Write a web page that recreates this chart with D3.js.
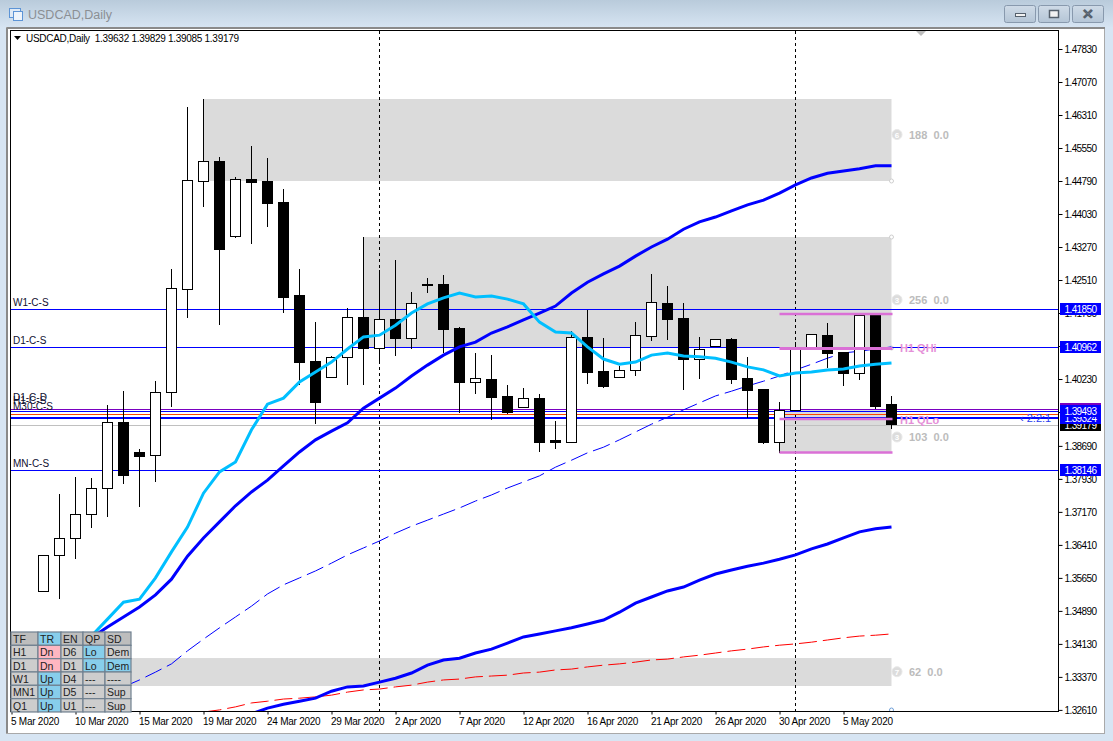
<!DOCTYPE html>
<html><head><meta charset="utf-8">
<script src="https://cdn.jsdelivr.net/npm/d3@7/dist/d3.min.js"></script>
<style>
html,body{margin:0;padding:0;background:#d7e5f3;overflow:hidden}
svg{display:block}
text{font-family:"Liberation Sans",Arial,sans-serif}
</style></head><body><script>
const opens=[1.35347,1.36176,1.36568,1.37121,1.37719,1.39239,1.38548,1.38479,1.39930,1.42302,1.44790,1.45250,1.43523,1.44836,1.44790,1.44306,1.42164,1.40644,1.40276,1.40736,1.41657,1.40944,1.41611,1.41174,1.42417,1.42417,1.41404,1.40161,1.40230,1.39838,1.39585,1.39792,1.38825,1.38779,1.41197,1.40414,1.40276,1.40437,1.41220,1.41980,1.41634,1.40690,1.40990,1.41151,1.40253,1.39999,1.38779,1.39516,1.40967,1.41243,1.40851,1.40368,1.41727,1.39632];
const highs=[1.36176,1.37581,1.37973,1.37950,1.39631,1.39953,1.38618,1.40184,1.42763,1.46494,1.46678,1.45342,1.44882,1.45596,1.45319,1.44605,1.42763,1.41542,1.40759,1.41865,1.43500,1.42740,1.42970,1.42233,1.42556,1.42625,1.41427,1.40828,1.40782,1.40091,1.40022,1.39884,1.39262,1.41335,1.41819,1.41174,1.40529,1.41542,1.42648,1.42371,1.41980,1.41197,1.41151,1.41174,1.40736,1.39999,1.39700,1.41082,1.41266,1.41519,1.40851,1.41704,1.41727,1.39829];
const lows=[1.35347,1.35163,1.36084,1.36798,1.37052,1.37812,1.37282,1.37858,1.39585,1.41634,1.44191,1.41473,1.43477,1.43339,1.43730,1.41750,1.40091,1.39193,1.40276,1.40091,1.40091,1.40598,1.40759,1.40921,1.42210,1.40828,1.39447,1.39884,1.39285,1.39424,1.39562,1.38548,1.38618,1.38756,1.40114,1.40022,1.40276,1.40299,1.41105,1.41128,1.39976,1.40230,1.40967,1.40114,1.39332,1.38733,1.38525,1.39516,1.40967,1.40483,1.40068,1.40207,1.39539,1.39085];
const closes=[1.36176,1.36568,1.37121,1.37719,1.39239,1.38019,1.38456,1.39930,1.42325,1.44813,1.45250,1.43224,1.44836,1.44767,1.44283,1.42118,1.40621,1.39700,1.40736,1.41657,1.40944,1.41611,1.41174,1.41980,1.42394,1.41381,1.40161,1.40253,1.39815,1.39470,1.39792,1.38779,1.38779,1.41197,1.40391,1.40068,1.40437,1.41243,1.42003,1.41611,1.40690,1.40921,1.41151,1.40230,1.39976,1.38779,1.39516,1.40944,1.41266,1.40828,1.40368,1.41704,1.39608,1.39179];
const firstCandleBar=2;

const maFast=[1.3431,1.3470,1.3509,1.3516,1.3565,1.3625,1.3682,1.3760,1.3809,1.3832,1.3906,1.3965,1.3979,1.4016,1.4039,1.4062,1.4092,1.4120,1.4124,1.4147,1.4175,1.4196,1.4210,1.4221,1.4212,1.4214,1.4207,1.4196,1.4154,1.4131,1.4129,1.4097,1.4069,1.4057,1.4062,1.4078,1.4083,1.4076,1.4074,1.4071,1.4062,1.4051,1.4044,1.4030,1.4037,1.4039,1.4044,1.4046,1.4053,1.4057,1.4060];
const maFastStart=5;
const maMid=[1.3427,1.3452,1.3475,1.3498,1.3526,1.3562,1.3615,1.3657,1.3694,1.3731,1.3763,1.3790,1.3823,1.3855,1.3883,1.3903,1.3922,1.3956,1.3979,1.4002,1.4030,1.4055,1.4078,1.4097,1.4108,1.4129,1.4143,1.4159,1.4175,1.4191,1.4221,1.4246,1.4265,1.4283,1.4306,1.4327,1.4345,1.4368,1.4385,1.4396,1.4410,1.4424,1.4435,1.4451,1.4470,1.4486,1.4497,1.4502,1.4507,1.4514,1.4514];
const maMidStart=5;
const maDash=[1.3314,1.3330,1.3348,1.3367,1.3397,1.3424,1.3450,1.3475,1.3500,1.3528,1.3549,1.3565,1.3581,1.3599,1.3618,1.3634,1.3650,1.3668,1.3684,1.3698,1.3712,1.3726,1.3742,1.3756,1.3772,1.3786,1.3800,1.3820,1.3836,1.3853,1.3866,1.3883,1.3901,1.3919,1.3935,1.3952,1.3968,1.3984,1.3995,1.4007,1.4018,1.4030,1.4044,1.4057,1.4071,1.4083,1.4087,1.4092,1.4097];
const maDashStart=7;
const maSlow=[1.3252,1.3265,1.3274,1.3281,1.3288,1.3304,1.3314,1.3316,1.3325,1.3334,1.3346,1.3364,1.3376,1.3380,1.3392,1.3401,1.3415,1.3429,1.3436,1.3443,1.3450,1.3459,1.3468,1.3486,1.3507,1.3521,1.3535,1.3544,1.3560,1.3574,1.3583,1.3592,1.3599,1.3608,1.3618,1.3632,1.3643,1.3657,1.3671,1.3678,1.3682];
const maSlowStart=15;
const maRed=[1.3256,1.3261,1.3268,1.3277,1.3281,1.3286,1.3288,1.3291,1.3295,1.3302,1.3307,1.3309,1.3314,1.3318,1.3325,1.3330,1.3332,1.3337,1.3339,1.3341,1.3346,1.3348,1.3353,1.3355,1.3360,1.3364,1.3367,1.3371,1.3376,1.3378,1.3383,1.3387,1.3392,1.3397,1.3401,1.3406,1.3410,1.3413,1.3417,1.3422,1.3427,1.3431,1.3433,1.3436];
const maRedStart=12;

const dateTicks=[0,4,8,12,16,20,24,28,32,36,40,44,48,52];
const dateLabels=["5 Mar 2020","10 Mar 2020","15 Mar 2020","19 Mar 2020","24 Mar 2020","29 Mar 2020","2 Apr 2020","7 Apr 2020","12 Apr 2020","16 Apr 2020","21 Apr 2020","26 Apr 2020","30 Apr 2020","5 May 2020"];
const priceTicks=[1.4783,1.4707,1.4631,1.4555,1.4479,1.4403,1.4327,1.4251,1.4175,1.4099,1.4023,1.3947,1.3869,1.3793,1.3717,1.3641,1.3565,1.3489,1.3413,1.3337,1.3261];

const zoneStart=[12,22,48,0], zoneHigh=[1.46678,1.43500,1.39516,1.33804], zoneLow=[1.44790,1.40944,1.38525,1.33160];
const zoneNum=["6","3","3","7"], zoneText=["188  0.0","256  0.0","103  0.0","62  0.0"], zoneLabelPrice=[1.4586,1.42055,1.38895,1.33490];
const levelNames=["W1-C-S","D1-C-S","MN-C-S","D1-C-D","H1-C-S","M30-C-S"], levelNamePrice=[1.41850,1.40962,1.38146,1.39650,1.39580,1.39440];
const linePrices=[1.41850,1.40962,1.38146,1.39539,1.39493,1.39424,1.39355,1.39324,1.39179];
const lineColors=["#0000ff","#0000ff","#0000ff","#7a00c0","#0000ff","#ff4500","#0000ff","#0000ff","#c0c0c0"];
const pinkPrices=[1.41727,1.40933,1.39308,1.38537], pinkStart=48;
const vLines=[23,49];
const tagPrices=[1.39179,1.39324,1.39539,1.39493,1.41850,1.40962,1.38146], tagColors=["#000","#0000ff","#7a00c0","#0000ff","#0000ff","#0000ff","#0000ff"], tagTexts=["1.39179","1.39324","","1.39493","1.41850","1.40962","1.38146"];
const tableRows=[["TF","TR","EN","QP","SD"],["H1","Dn","D6","Lo","Dem"],["D1","Dn","D1","Lo","Dem"],["W1","Up","D4","---","----"],["MN1","Up","D5","---","Sup"],["Q1","Up","U1","---","Sup"]];
const tableColumns=[27,23,22,22,26];
const headerInfo="USDCAD,Daily  1.39632 1.39829 1.39085 1.39179";

const W=1113,H=741;
const svg=d3.select("body").append("svg").attr("width",W).attr("height",H);
const defs=svg.append("defs");
const g=defs.append("linearGradient").attr("id","tb").attr("x1",0).attr("x2",0).attr("y1",0).attr("y2",1);
g.append("stop").attr("offset",0).attr("stop-color","#b9cbdb");
g.append("stop").attr("offset",1).attr("stop-color","#d6e4f2");
const g2=defs.append("linearGradient").attr("id","btn").attr("x1",0).attr("x2",0).attr("y1",0).attr("y2",1);
g2.append("stop").attr("offset",0).attr("stop-color","#cfdbe7");
g2.append("stop").attr("offset",1).attr("stop-color","#b4c5d6");
defs.append("clipPath").attr("id","plot").append("rect").attr("x",11).attr("y",31).attr("width",1047).attr("height",680);

svg.append("rect").attr("width",W).attr("height",H).attr("fill","#d7e5f3");
svg.append("rect").attr("width",W).attr("height",27).attr("fill","url(#tb)");
svg.append("rect").attr("x",6.5).attr("y",27.5).attr("width",1098).attr("height",706).attr("fill","#fff").attr("stroke","#a9a9a9");
svg.append("line").attr("x1",7).attr("x2",1105).attr("y1",28).attr("y2",28).attr("stroke","#8a8a8a").attr("stroke-width",2);
svg.append("line").attr("x1",7).attr("x2",7).attr("y1",28).attr("y2",733).attr("stroke","#8a8a8a").attr("stroke-width",2);

// title bar
const ic=svg.append("g").attr("fill","none").attr("stroke","#5d94d6");
ic.append("rect").attr("x",9.5).attr("y",8.5).attr("width",11).attr("height",9).attr("fill","#dfeaf6");
ic.append("rect").attr("x",13.5).attr("y",11.5).attr("width",9).attr("height",9).attr("fill","#eef4fb");
svg.append("text").attr("x",28).attr("y",19).attr("font-size",12.5).attr("fill","#8b8f94").text("USDCAD,Daily");
[1005,1039,1073].forEach((x,i)=>{
  svg.append("rect").attr("x",x-.5).attr("y",5.5).attr("width",31).attr("height",17).attr("rx",2).attr("fill","url(#btn)").attr("stroke","#8899ad");
  if(i==0) svg.append("rect").attr("x",x+10.5).attr("y",13.5).attr("width",10).attr("height",3).attr("fill","#f2f2f2").attr("stroke","#55606c");
  if(i==1) svg.append("rect").attr("x",x+10.5).attr("y",10.5).attr("width",9).attr("height",7).attr("fill","#f2f2f2").attr("stroke","#55606c").attr("stroke-width",1.5);
  if(i==2) svg.append("text").attr("x",x+15).attr("y",19).attr("text-anchor","middle").attr("font-size",14).attr("font-weight","bold").attr("fill","#e9eef3").attr("stroke","#55606c").attr("stroke-width",.7).text("✕");
});

const x=d3.scaleLinear().domain([0,55]).range([11.5,891.5]);
const y=d3.scaleLinear().domain([1.4783,1.3261]).range([49,709.9]);
const plot=svg.append("g").attr("clip-path","url(#plot)");
const xEnd=x(55);

// zones
plot.selectAll("rect.zone").data(zoneStart).join("rect").attr("class","zone")
  .attr("x",d=>x(d)).attr("width",d=>xEnd-x(d))
  .attr("y",(d,i)=>y(zoneHigh[i])).attr("height",(d,i)=>y(zoneLow[i])-y(zoneHigh[i])).attr("fill","#dbdbdb");
// small anchors
[zoneLow[0],zoneHigh[1],zoneLow[1]].forEach(p=>plot.append("circle").attr("cx",xEnd).attr("cy",y(p)).attr("r",2).attr("fill","#fff").attr("stroke","#cfcfcf"));
plot.append("circle").attr("cx",xEnd).attr("cy",710).attr("r",2).attr("fill","#fff").attr("stroke","#6d9ed8");

// vertical dashed
plot.selectAll("line.v").data(vLines).join("line").attr("class","v")
  .attr("x1",d=>x(d)).attr("x2",d=>x(d)).attr("y1",31).attr("y2",711)
  .attr("stroke","#000").attr("stroke-dasharray","3 3");

// horizontal levels
plot.selectAll("line.h").data(linePrices).join("line").attr("class","h")
  .attr("x1",11).attr("x2",1058)
  .attr("y1",d=>Math.round(y(d))+.5).attr("y2",d=>Math.round(y(d))+.5)
  .attr("stroke",(d,i)=>lineColors[i]);

// level names
svg.selectAll("text.lv").data(levelNames).join("text").attr("class","lv")
  .attr("x",13).attr("y",(d,i)=>y(levelNamePrice[i])-3).attr("font-size",10).attr("fill","#101030").text(d=>d);

const lineOf=(arr,start)=>d3.line().x((d,i)=>x(start+i)).y(d=>y(d))(arr);
// thin dashed under candles
plot.append("path").attr("d",lineOf(maDash,maDashStart)).attr("fill","none").attr("stroke","#0000ff").attr("stroke-dasharray","18 6");
plot.append("path").attr("d",lineOf(maRed,maRedStart)).attr("fill","none").attr("stroke","#ff0000").attr("stroke-dasharray","18 6");

// candles
const bars=opens.map((o,i)=>({o,h:highs[i],l:lows[i],c:closes[i],b:firstCandleBar+i}));
const cg=plot.append("g").attr("shape-rendering","crispEdges");
cg.selectAll("line").data(bars).join("line")
  .attr("x1",d=>x(d.b)).attr("x2",d=>x(d.b)).attr("y1",d=>y(d.h)).attr("y2",d=>y(d.l)).attr("stroke","#000");
cg.selectAll("rect").data(bars).join("rect")
  .attr("x",d=>x(d.b)-5).attr("width",10)
  .attr("y",d=>y(Math.max(d.o,d.c))).attr("height",d=>Math.max(1,Math.abs(y(d.o)-y(d.c))))
  .attr("fill",d=>d.c<d.o?"#000":"#fff").attr("stroke","#000");

// thick averages
plot.append("path").attr("d",lineOf(maSlow,maSlowStart)).attr("fill","none").attr("stroke","#0000ff").attr("stroke-width",3);
plot.append("path").attr("d",lineOf(maMid,maMidStart)).attr("fill","none").attr("stroke","#0000ff").attr("stroke-width",3);
plot.append("path").attr("d",lineOf(maFast,maFastStart)).attr("fill","none").attr("stroke","#00bfff").attr("stroke-width",3);

// pink lines
plot.selectAll("line.p").data(pinkPrices).join("line").attr("class","p")
  .attr("x1",x(pinkStart)).attr("x2",xEnd+1).attr("y1",d=>y(d)).attr("y2",d=>y(d))
  .attr("stroke","#da70d6").attr("stroke-width",(d,i)=>i==1?3:2.5);
svg.append("text").attr("x",900).attr("y",y(pinkPrices[1])+4).attr("font-size",11).attr("font-weight","bold").attr("fill","#e58fd8").text("H1 QHi");
svg.append("text").attr("x",900).attr("y",y(pinkPrices[2])+5).attr("font-size",11).attr("font-weight","bold").attr("fill","#e58fd8").text("H1 QLo");

// zone labels
zoneText.forEach((t,i)=>{
  const yy=y(zoneLabelPrice[i]);
  svg.append("circle").attr("cx",897).attr("cy",yy).attr("r",5).attr("fill","#dcdcdc").attr("stroke","#e8e8e8");
  svg.append("text").attr("x",897).attr("y",yy+3).attr("text-anchor","middle").attr("font-size",8).attr("font-weight","bold").attr("fill","#fff").text(zoneNum[i]);
  svg.append("text").attr("x",909).attr("y",yy+4).attr("font-size",11).attr("font-weight","bold").attr("fill","#bcbcbc").attr("xml:space","preserve").style("white-space","pre").text(t);
});

// 2:2:1
svg.append("text").attr("x",1020).attr("y",422).attr("font-size",11).attr("fill","#2a3cf0").text("‹ 2:2:1");

// top triangle
svg.append("path").attr("d",d3.line()([[916,31],[926,31],[921,36]])+"Z").attr("fill","#bdbdbd");

// header
svg.append("path").attr("d",d3.line()([[14,36],[21,36],[17.5,40]])+"Z").attr("fill","#000");
svg.append("text").attr("x",26).attr("y",42).attr("font-size",10).attr("fill","#000").attr("textLength",213).attr("xml:space","preserve").style("white-space","pre").text(headerInfo);

// axes
const yAxis=d3.axisRight(y).tickValues(priceTicks).tickSize(4).tickFormat(d3.format(".5f"));
const ya=svg.append("g").attr("transform","translate(1058.5,0)").call(yAxis);
ya.select(".domain").remove();
ya.selectAll("line").attr("stroke","#000");
ya.selectAll("text").attr("x",6).attr("font-size",10).attr("fill","#000").attr("letter-spacing","-0.6").style("font-family",'"Liberation Sans",Arial,sans-serif');
const xAxis=d3.axisBottom(x).tickValues(dateTicks).tickSize(3).tickFormat((d,i)=>dateLabels[i]);
const xa=svg.append("g").attr("transform","translate(0,711.5)").call(xAxis);
xa.select(".domain").remove();
xa.selectAll("line").attr("stroke","#000");
xa.selectAll("text").attr("text-anchor","start").attr("x",-1).attr("y",6).attr("font-size",10).attr("fill","#000").attr("letter-spacing","-0.25").style("font-family",'"Liberation Sans",Arial,sans-serif');

// frame
svg.append("rect").attr("x",10.5).attr("y",30.5).attr("width",1048).attr("height",681).attr("fill","none").attr("stroke","#000");

// right price tags
tagPrices.forEach((p,i)=>{
  const yy=Math.round(y(p));
  svg.append("rect").attr("x",1060).attr("y",yy-6).attr("width",41).attr("height",12).attr("fill",tagColors[i]);
  if(tagTexts[i]) svg.append("text").attr("x",1064.5).attr("y",yy+4).attr("font-size",10).attr("letter-spacing","-0.6").attr("fill","#fff").text(tagTexts[i]);
});

// table
const tg=svg.append("g");
const colX=d3.cumsum([11,...tableColumns]);
const rowH=13.33;
const cellFill=(r,c)=>{
  if(r==0) return c==1?"#87ceeb":"#bdbdbd";
  const v=tableRows[r][c];
  if(v=="Dn") return "#ffb6c1";
  if(v=="Up") return "#87ceeb";
  if(v=="Lo") return "#87ceeb";
  if(r==2&&v=="Dem") return "#87ceeb";
  return "#cdcdcd";
};
tableRows.forEach((row,r)=>row.forEach((t,c)=>{
  const x0=colX[c], y0=632+r*rowH;
  tg.append("rect").attr("x",x0).attr("y",y0).attr("width",tableColumns[c]).attr("height",rowH).attr("fill",cellFill(r,c)).attr("stroke","#708090").attr("stroke-width",1.2);
  tg.append("text").attr("x",x0+2).attr("y",y0+11).attr("font-size",10.5).attr("fill","#222").text(t);
}));
</script></body></html>
